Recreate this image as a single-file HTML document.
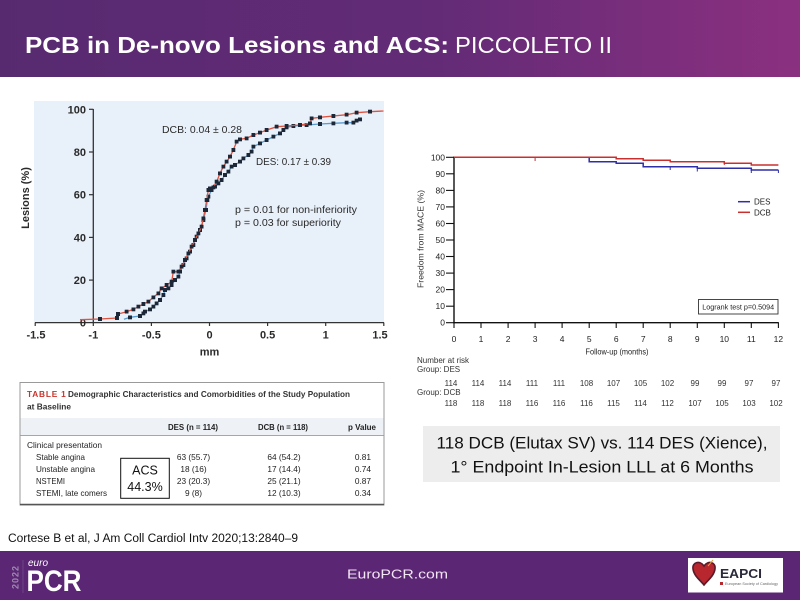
<!DOCTYPE html>
<html><head><meta charset="utf-8"><style>
html,body{margin:0;padding:0;background:#fff;}
svg{display:block;}
text{font-family:"Liberation Sans",Arial,sans-serif;}
</style></head><body>
<svg width="800" height="600" viewBox="0 0 800 600" xmlns="http://www.w3.org/2000/svg">
<defs>
<linearGradient id="hg" x1="0" y1="0" x2="1" y2="0">
<stop offset="0" stop-color="#572a70"/>
<stop offset="0.55" stop-color="#632b76"/>
<stop offset="1" stop-color="#8b3080"/>
</linearGradient>
<marker id="mk" markerUnits="userSpaceOnUse" markerWidth="4" markerHeight="4" refX="1.5" refY="1.5" viewBox="0 0 3 3">
<rect x="0" y="0" width="3" height="3" fill="#1c2838"/>
</marker>
</defs>
<rect x="0" y="0" width="800" height="600" fill="#fff"/>
<!-- Header -->
<rect x="0" y="0" width="800" height="77" fill="url(#hg)"/>
<text x="25" y="53" font-size="23" font-weight="bold" fill="#fff" textLength="424" lengthAdjust="spacingAndGlyphs">PCB in De-novo Lesions and ACS:</text>
<text x="455" y="53" font-size="23" fill="#fff" textLength="157" lengthAdjust="spacingAndGlyphs">PICCOLETO II</text>

<!-- Left chart -->
<rect x="34" y="101" width="350" height="221.5" fill="#e8f0f9"/>
<line x1="35" y1="322.6" x2="384" y2="322.6" stroke="#333" stroke-width="1.3"/>
<line x1="93.3" y1="109" x2="93.3" y2="322.6" stroke="#333" stroke-width="1.3"/>
<g stroke="#333" stroke-width="1.2">
<line x1="89" y1="109.3" x2="93.3" y2="109.3"/>
<line x1="89" y1="152" x2="93.3" y2="152"/>
<line x1="89" y1="194.7" x2="93.3" y2="194.7"/>
<line x1="89" y1="237.4" x2="93.3" y2="237.4"/>
<line x1="89" y1="280.1" x2="93.3" y2="280.1"/>
<line x1="35.2" y1="322.6" x2="35.2" y2="326"/>
<line x1="93.3" y1="322.6" x2="93.3" y2="326"/>
<line x1="151.4" y1="322.6" x2="151.4" y2="326"/>
<line x1="209.5" y1="322.6" x2="209.5" y2="326"/>
<line x1="267.6" y1="322.6" x2="267.6" y2="326"/>
<line x1="325.7" y1="322.6" x2="325.7" y2="326"/>
<line x1="383.8" y1="322.6" x2="383.8" y2="326"/>
</g>
<g font-size="11" fill="#2a2a2a" font-weight="bold" text-anchor="end">
<text x="86" y="113.3">100</text>
<text x="86" y="156">80</text>
<text x="86" y="198.7">60</text>
<text x="86" y="241.4">40</text>
<text x="86" y="284.1">20</text>
<text x="86" y="326.6">0</text>
</g>
<g font-size="11" fill="#2a2a2a" font-weight="bold" text-anchor="middle">
<text x="36" y="338.5">-1.5</text>
<text x="93.3" y="338.5">-1</text>
<text x="151.4" y="338.5">-0.5</text>
<text x="209.5" y="338.5">0</text>
<text x="267.6" y="338.5">0.5</text>
<text x="325.7" y="338.5">1</text>
<text x="380" y="338.5">1.5</text>
<text x="209.5" y="355.5">mm</text>
</g>
<text transform="translate(29,198) rotate(-90)" font-size="11" font-weight="bold" fill="#2a2a2a" text-anchor="middle">Lesions (%)</text>
<g font-size="10.5" fill="#2a2a2a">
<text x="162" y="133" textLength="80" lengthAdjust="spacingAndGlyphs">DCB: 0.04 ± 0.28</text>
<text x="256" y="165" textLength="75" lengthAdjust="spacingAndGlyphs">DES: 0.17 ± 0.39</text>
<text x="235" y="213" textLength="122" lengthAdjust="spacingAndGlyphs">p = 0.01 for non-inferiority</text>
<text x="235" y="226" textLength="106" lengthAdjust="spacingAndGlyphs">p = 0.03 for superiority</text>
</g>
<polyline fill="none" stroke="#5b9bcf" stroke-width="1.3" marker-mid="url(#mk)" points="124,319.3 130,317.3 140,316 143.3,313.3 145,311.7 150,309.3 153.3,306.7 156.7,303.3 160,300 163.3,295 165,290 168.3,288.3 171.7,285 175,280 178.3,276.7 180,271.7 183.3,265 186.7,258.3 190,251.7 193.3,245 196.7,236.7 200,230 203.3,220 206,210 207.3,200 208.3,196.7 211.7,190 215,186.7 218.3,183.3 221.7,180 225,175 228.3,171.7 231.7,166.7 235,165 240,161.7 243.3,158.3 248.3,155 251.7,151.7 253.3,146.7 260,143.3 266.7,140 273.3,136.7 280,133.3 283.3,130 286.7,127.3 293.3,126 306.7,125 320,124 333.3,123.3 346.7,122.7 353.3,122.7 356.7,120.7 360,119.3 361,119"/>
<polyline fill="none" stroke="#e0533f" stroke-width="1.3" marker-mid="url(#mk)" points="80,319.7 100,319 117,318 118,314 126.7,311.7 133.3,309.3 138.3,306.7 143.3,304 148.3,301.7 153.3,297.3 158.3,293.3 161.7,288.3 166.7,285 171.7,281.7 173.3,271.7 178.3,271.7 181.7,266.7 185,260 188.3,253.3 191.7,246.7 195,240 198.3,233.3 201.7,226.7 203.3,218.3 205,210 206.7,200 208.3,190 210,188.3 213.3,187.3 216.7,181.7 220,173.3 223.3,166.7 226.7,161.7 230,156.7 233.3,150 236.7,141.7 240,139.3 246.7,138.3 253.3,135 260,132.7 266.7,130 276.7,126.7 286.7,126 300,125 310,123.3 311.7,118.3 320,117.3 333.3,116 346.7,114.7 356.7,112.7 370,111.7 383.5,111"/>

<!-- Right KM chart -->
<g stroke="#111" stroke-width="1.4">
<line x1="454" y1="156.5" x2="454" y2="323.4"/>
<line x1="453.3" y1="322.7" x2="778.8" y2="322.7"/>
</g>
<g stroke="#111" stroke-width="1.1">
<line x1="446" y1="157.3" x2="454" y2="157.3"/>
<line x1="446" y1="173.8" x2="454" y2="173.8"/>
<line x1="446" y1="190.4" x2="454" y2="190.4"/>
<line x1="446" y1="206.9" x2="454" y2="206.9"/>
<line x1="446" y1="223.5" x2="454" y2="223.5"/>
<line x1="446" y1="240" x2="454" y2="240"/>
<line x1="446" y1="256.5" x2="454" y2="256.5"/>
<line x1="446" y1="273.1" x2="454" y2="273.1"/>
<line x1="446" y1="289.6" x2="454" y2="289.6"/>
<line x1="446" y1="306.2" x2="454" y2="306.2"/>
<line x1="446" y1="322.7" x2="454" y2="322.7"/>
<line x1="454" y1="322.7" x2="454" y2="328"/>
<line x1="481" y1="322.7" x2="481" y2="328"/>
<line x1="508.1" y1="322.7" x2="508.1" y2="328"/>
<line x1="535.1" y1="322.7" x2="535.1" y2="328"/>
<line x1="562.1" y1="322.7" x2="562.1" y2="328"/>
<line x1="589.2" y1="322.7" x2="589.2" y2="328"/>
<line x1="616.2" y1="322.7" x2="616.2" y2="328"/>
<line x1="643.2" y1="322.7" x2="643.2" y2="328"/>
<line x1="670.2" y1="322.7" x2="670.2" y2="328"/>
<line x1="697.3" y1="322.7" x2="697.3" y2="328"/>
<line x1="724.3" y1="322.7" x2="724.3" y2="328"/>
<line x1="751.3" y1="322.7" x2="751.3" y2="328"/>
<line x1="778.4" y1="322.7" x2="778.4" y2="328"/>
</g>
<g font-size="8.5" fill="#222" text-anchor="end">
<text x="445" y="160.3">100</text>
<text x="445" y="176.8">90</text>
<text x="445" y="193.4">80</text>
<text x="445" y="209.9">70</text>
<text x="445" y="226.5">60</text>
<text x="445" y="243">50</text>
<text x="445" y="259.5">40</text>
<text x="445" y="276.1">30</text>
<text x="445" y="292.6">20</text>
<text x="445" y="309.2">10</text>
<text x="445" y="325.7">0</text>
</g>
<g font-size="8.5" fill="#222" text-anchor="middle">
<text x="454" y="342">0</text>
<text x="481" y="342">1</text>
<text x="508.1" y="342">2</text>
<text x="535.1" y="342">3</text>
<text x="562.1" y="342">4</text>
<text x="589.2" y="342">5</text>
<text x="616.2" y="342">6</text>
<text x="643.2" y="342">7</text>
<text x="670.2" y="342">8</text>
<text x="697.3" y="342">9</text>
<text x="724.3" y="342">10</text>
<text x="751.3" y="342">11</text>
<text x="778.4" y="342">12</text>
<text x="617" y="354.5" textLength="63" lengthAdjust="spacingAndGlyphs">Follow-up (months)</text>
</g>
<text transform="translate(423.5,239) rotate(-90)" font-size="8.3" fill="#333" text-anchor="middle" textLength="98" lengthAdjust="spacingAndGlyphs">Freedom from MACE (%)</text>
<!-- KM curves -->
<polyline fill="none" stroke="#2e2ea6" stroke-width="1.5" points="454,157.3 589.2,157.3 589.2,161.7 616.2,161.7 616.2,163.3 643.2,163.3 643.2,166.7 697.3,166.7 697.3,168.3 751.3,168.3 751.3,170 778.4,170"/>
<polyline fill="none" stroke="#c8302f" stroke-width="1.5" points="454,157.3 616.2,157.3 616.2,158.7 643.2,158.7 643.2,160.3 670.2,160.3 670.2,161.7 724.3,161.7 724.3,163.3 751.3,163.3 751.3,165 778.4,165"/>
<g stroke-width="1">
<line x1="535.1" y1="157.3" x2="535.1" y2="161" stroke="#c8302f"/>
<line x1="670.2" y1="166.7" x2="670.2" y2="170" stroke="#2e2ea6"/>
<line x1="697.3" y1="168.3" x2="697.3" y2="171.5" stroke="#2e2ea6"/>
<line x1="724.3" y1="161.7" x2="724.3" y2="165" stroke="#c8302f"/>
<line x1="751.3" y1="170" x2="751.3" y2="173" stroke="#2e2ea6"/>
<line x1="778.4" y1="170" x2="778.4" y2="173" stroke="#2e2ea6"/>
</g>
<!-- legend -->
<line x1="738" y1="201.7" x2="750" y2="201.7" stroke="#2e2ea6" stroke-width="1.5"/>
<line x1="738" y1="212.3" x2="750" y2="212.3" stroke="#c8302f" stroke-width="1.5"/>
<text x="754" y="204.7" font-size="8" fill="#222">DES</text>
<text x="754" y="215.3" font-size="8" fill="#222">DCB</text>
<rect x="698.5" y="299.5" width="79.5" height="14.5" fill="#fff" stroke="#333" stroke-width="0.9"/>
<text x="738.2" y="309.5" font-size="7.3" fill="#222" text-anchor="middle" textLength="72" lengthAdjust="spacingAndGlyphs">Logrank test p=0.5094</text>
<!-- number at risk -->
<g font-size="8" fill="#333">
<text x="417" y="363">Number at risk</text>
<text x="417" y="372">Group: DES</text>
<text x="417" y="395">Group: DCB</text>
</g>
<g font-size="8" fill="#333" text-anchor="middle">
<text x="451" y="386">114</text><text x="478" y="386">114</text><text x="505" y="386">114</text><text x="532" y="386">111</text><text x="559" y="386">111</text><text x="586.5" y="386">108</text><text x="613.5" y="386">107</text><text x="640.5" y="386">105</text><text x="667.5" y="386">102</text><text x="695" y="386">99</text><text x="722" y="386">99</text><text x="749" y="386">97</text><text x="776" y="386">97</text>
<text x="451" y="406">118</text><text x="478" y="406">118</text><text x="505" y="406">118</text><text x="532" y="406">116</text><text x="559" y="406">116</text><text x="586.5" y="406">116</text><text x="613.5" y="406">115</text><text x="640.5" y="406">114</text><text x="667.5" y="406">112</text><text x="695" y="406">107</text><text x="722" y="406">105</text><text x="749" y="406">103</text><text x="776" y="406">102</text>
</g>
<!-- gray box -->
<rect x="423" y="426" width="357" height="56" fill="#ededed"/>
<text x="602" y="448.3" font-size="17" fill="#111" text-anchor="middle" textLength="331" lengthAdjust="spacingAndGlyphs">118 DCB (Elutax SV) vs. 114 DES (Xience),</text>
<text x="602" y="472.3" font-size="17" fill="#111" text-anchor="middle" textLength="303" lengthAdjust="spacingAndGlyphs">1° Endpoint In-Lesion LLL at 6 Months</text>

<!-- Table -->
<rect x="20" y="382.5" width="364" height="122.5" fill="#fff" stroke="#9a9a9a" stroke-width="1"/>
<line x1="20" y1="504.5" x2="384" y2="504.5" stroke="#555" stroke-width="1.5"/>
<text x="27" y="397" font-size="8.3" font-weight="bold" fill="#c8332b" letter-spacing="0.8">TABLE 1</text>
<text x="68" y="397" font-size="8.3" font-weight="bold" fill="#333" textLength="282" lengthAdjust="spacingAndGlyphs">Demographic Characteristics and Comorbidities of the Study Population</text>
<text x="27" y="409.5" font-size="8.3" font-weight="bold" fill="#333" textLength="44" lengthAdjust="spacingAndGlyphs">at Baseline</text>
<rect x="20.5" y="418" width="363" height="17" fill="#eef2f6"/>
<line x1="20.5" y1="435.5" x2="383.5" y2="435.5" stroke="#888" stroke-width="0.8"/>
<g font-size="7.8" font-weight="bold" fill="#222">
<text x="193" y="430" text-anchor="middle" textLength="50" lengthAdjust="spacingAndGlyphs">DES (n = 114)</text>
<text x="283" y="430" text-anchor="middle" textLength="50" lengthAdjust="spacingAndGlyphs">DCB (n = 118)</text>
<text x="376" y="430" text-anchor="end" textLength="28" lengthAdjust="spacingAndGlyphs">p Value</text>
</g>
<g font-size="8.3" fill="#222">
<text x="27" y="448" textLength="75" lengthAdjust="spacingAndGlyphs">Clinical presentation</text>
<text x="36" y="460" textLength="49" lengthAdjust="spacingAndGlyphs">Stable angina</text>
<text x="36" y="472" textLength="59" lengthAdjust="spacingAndGlyphs">Unstable angina</text>
<text x="36" y="484" textLength="29" lengthAdjust="spacingAndGlyphs">NSTEMI</text>
<text x="36" y="496" textLength="71" lengthAdjust="spacingAndGlyphs">STEMI, late comers</text>
</g>
<g font-size="8.3" fill="#222" text-anchor="middle">
<text x="193.5" y="460">63 (55.7)</text><text x="284" y="460">64 (54.2)</text>
<text x="193.5" y="472">18 (16)</text><text x="284" y="472">17 (14.4)</text>
<text x="193.5" y="484">23 (20.3)</text><text x="284" y="484">25 (21.1)</text>
<text x="193.5" y="496">9 (8)</text><text x="284" y="496">12 (10.3)</text>
</g>
<g font-size="8.3" fill="#222" text-anchor="end">
<text x="371" y="460">0.81</text><text x="371" y="472">0.74</text><text x="371" y="484">0.87</text><text x="371" y="496">0.34</text>
</g>
<rect x="120.7" y="458.3" width="48.6" height="40" fill="#fff" stroke="#111" stroke-width="1"/>
<text x="145" y="474.5" font-size="12.5" fill="#111" text-anchor="middle">ACS</text>
<text x="145" y="491" font-size="12.5" fill="#111" text-anchor="middle">44.3%</text>

<!-- citation -->
<text x="8" y="542" font-size="11.5" fill="#111" textLength="290" lengthAdjust="spacingAndGlyphs">Cortese B et al, J Am  Coll Cardiol Intv 2020;13:2840–9</text>

<!-- Footer -->
<rect x="0" y="551" width="800" height="49" fill="#5b2674"/>
<text transform="translate(18.5,577) rotate(-90)" font-size="9" font-weight="bold" fill="#9c88ad" text-anchor="middle" letter-spacing="1">2022</text>
<line x1="23" y1="560" x2="23" y2="593" stroke="#7a5a90" stroke-width="0.6"/>
<text x="28" y="566" font-size="10" font-style="italic" fill="#fff">euro</text>
<text x="26.5" y="591" font-size="30" font-weight="bold" fill="#fff" textLength="55" lengthAdjust="spacingAndGlyphs">PCR</text>
<text x="347" y="578.3" font-size="13" fill="#f2e6f2" textLength="101" lengthAdjust="spacingAndGlyphs">EuroPCR.com</text>
<rect x="688" y="558" width="95" height="34.5" fill="#fff"/>
<path d="M704,566 C700,560 692,562 693,569 C694,576 700,580 704,585 C708,580 714,576 715,569 C716,562 708,560 704,566 Z" fill="#b8262e" stroke="#5a1a2a" stroke-width="1.6"/>
<line x1="708" y1="566" x2="713" y2="560" stroke="#d9a040" stroke-width="1"/>
<text x="720" y="578" font-size="13" font-weight="bold" fill="#2a2a3a" textLength="42" lengthAdjust="spacingAndGlyphs">EAPCI</text>
<rect x="720" y="582" width="3" height="3" fill="#b8262e"/>
<text x="725" y="585" font-size="3.2" fill="#666" textLength="53" lengthAdjust="spacingAndGlyphs">European Society of Cardiology</text>
</svg>
</body></html>
